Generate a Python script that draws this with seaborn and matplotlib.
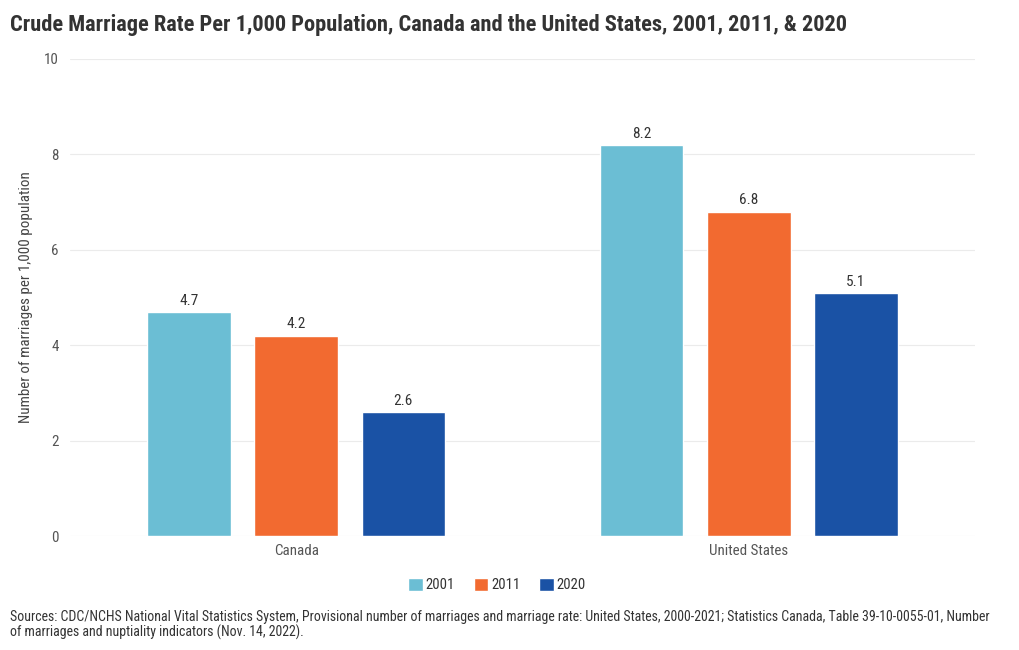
import matplotlib
matplotlib.use("Agg")
import matplotlib.pyplot as plt
import pandas as pd
import seaborn as sns

# data
countries = ["Canada", "United States"]
years = ["2001", "2011", "2020"]
rate_2001 = [4.7, 8.2]
rate_2011 = [4.2, 6.8]
rate_2020 = [2.6, 5.1]
colors = ["#6BBED4", "#F26A30", "#1A52A5"]

df = pd.DataFrame({
    "country": countries * 3,
    "year": [y for y in years for _ in countries],
    "rate": rate_2001 + rate_2011 + rate_2020,
})

sns.set_theme(style="white")
plt.rcParams["font.family"] = ["Roboto Condensed", "DejaVu Sans"]

fig = plt.figure(figsize=(10.2, 6.5), dpi=100)
ax = fig.add_axes([70 / 1020, 1 - 536 / 650, 905 / 1020, 477 / 650])

sns.barplot(data=df, x="country", y="rate", hue="year", palette=colors,
            width=0.71, gap=0.22, ax=ax, legend=True, saturation=1)

# value labels on top of the bars
for c in ax.containers:
    ax.bar_label(c, fmt="%.1f", padding=3, fontsize=11, color="#333333")

ax.set_xlim(-0.5, 1.5)
ax.set_ylim(0, 10)
ax.set_yticks([0, 2, 4, 6, 8, 10])
ax.grid(axis="y", color="#ebebeb", linewidth=0.8)
ax.set_axisbelow(True)
sns.despine(ax=ax, left=True, bottom=True)
ax.tick_params(axis="both", length=0, labelsize=10.8, labelcolor="#555555")
ax.tick_params(axis="y", pad=8)
ax.tick_params(axis="x", pad=6)
ax.set_xlabel("")
ax.set_ylabel("Number of marriages per 1,000 population", fontsize=10.8,
              color="#444444", labelpad=8)

handles, labels = ax.get_legend_handles_labels()
ax.get_legend().remove()
fig.legend(handles, labels, loc="center", bbox_to_anchor=(497 / 1020, 1 - 585 / 650),
           ncol=3, frameon=False, fontsize=10.5, handlelength=1.0, handleheight=1.0,
           handletextpad=0.2, columnspacing=1.3, labelcolor="#333333")

fig.text(10 / 1020, 1 - 25 / 650,
         "Crude Marriage Rate Per 1,000 Population, Canada and the United States, 2001, 2011, & 2020",
         fontsize=16.1, fontweight="bold", color="#333333", va="center", ha="left")

fig.text(10 / 1020, 1 - 625 / 650,
         "Sources: CDC/NCHS National Vital Statistics System, Provisional number of marriages and marriage rate: "
         "United States, 2000-2021; Statistics Canada, Table 39-10-0055-01, Number\n"
         "of marriages and nuptiality indicators (Nov. 14, 2022).",
         fontsize=10, color="#333333", va="center", ha="left", linespacing=1.1)

fig.savefig("out.png", dpi=100)
